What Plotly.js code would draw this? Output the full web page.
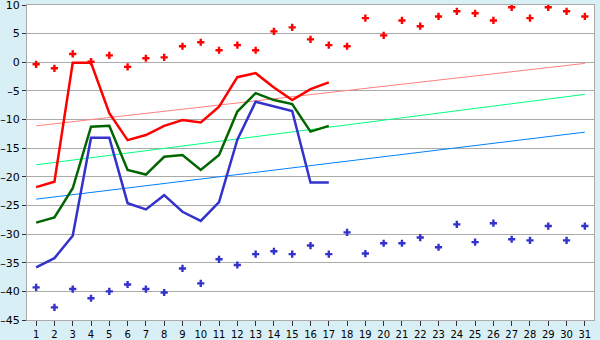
<!DOCTYPE html>
<html><head><meta charset="utf-8">
<script src="https://cdn.plot.ly/plotly-3.0.1.min.js"></script>
<style>html,body{margin:0;padding:0;background:#d9eff6;}</style>
</head><body>
<div id="chart" style="width:600px;height:340px;"></div>
<script>
const days = Array.from({length: 31}, (_, i) => i + 1);
const lineDays = days.slice(0, 17);
const redDots = [-0.35,-1.05,1.45,0.1,1.2,-0.8,0.7,0.85,2.8,3.5,2.1,3.0,2.1,5.4,6.1,4.0,3.0,2.8,7.7,4.7,7.3,6.3,8.0,8.9,8.55,7.3,9.6,7.7,9.6,8.9,8.0];
const blueDots = [-39.3,-42.8,-39.6,-41.2,-40.0,-38.8,-39.6,-40.2,-36.0,-38.6,-34.4,-35.4,-33.5,-33.0,-33.5,-32.0,-33.5,-29.7,-33.4,-31.6,-31.6,-30.6,-32.3,-28.3,-31.4,-28.1,-30.9,-31.1,-28.6,-31.1,-28.6];
const redLine = [-21.8,-20.85,-0.1,-0.1,-8.9,-13.6,-12.7,-11.1,-10.1,-10.5,-7.75,-2.6,-1.9,-4.4,-6.6,-4.7,-3.5];
const greenLine = [-28.0,-27.1,-22.0,-11.25,-11.1,-18.8,-19.6,-16.5,-16.2,-18.8,-16.2,-8.6,-5.4,-6.6,-7.3,-12.1,-11.1];
const blueLine = [-35.8,-34.2,-30.3,-13.2,-13.2,-24.6,-25.7,-23.2,-26.1,-27.7,-24.4,-13.5,-6.9,-7.75,-8.5,-21.0,-21.0];
const trendX = [1, 31];
const pinkTrend = [-11.1, -0.2];
const greenTrend = [-17.9, -5.6];
const blueTrend = [-23.9, -12.2];
const yTicks = [-45,-40,-35,-30,-25,-20,-15,-10,-5,0,5,10];
const yTickText = yTicks.map(v => v < 0 ? '\u2013' + Math.abs(v) : String(v));

const traces = [
  {x: trendX, y: pinkTrend, mode: 'lines', line: {color: '#ff8080', width: 1}},
  {x: trendX, y: greenTrend, mode: 'lines', line: {color: '#00ff80', width: 1}},
  {x: trendX, y: blueTrend, mode: 'lines', line: {color: '#0080ff', width: 1}},
  {x: days, y: redDots, mode: 'markers', marker: {symbol: 'cross', size: 6, color: '#ff0000'}},
  {x: days, y: blueDots, mode: 'markers', marker: {symbol: 'cross', size: 6, color: '#3333cc'}},
  {x: lineDays, y: redLine, mode: 'lines', line: {color: '#ff0000', width: 2.5}},
  {x: lineDays, y: greenLine, mode: 'lines', line: {color: '#006600', width: 2.5}},
  {x: lineDays, y: blueLine, mode: 'lines', line: {color: '#3333cc', width: 2.5}}
];

const layout = {
  width: 600, height: 340,
  margin: {l: 27, r: 6, t: 5, b: 20},
  paper_bgcolor: '#d9eff6',
  plot_bgcolor: '#ffffff',
  showlegend: false,
  font: {family: 'DejaVu Sans', size: 11, color: '#000'},
  xaxis: {
    range: [0.5, 31.5], tickmode: 'array', tickvals: days, ticktext: days.map(String),
    showgrid: false, zeroline: false, showline: true, mirror: true, linecolor: '#aaaaaa', linewidth: 1,
    ticks: 'outside', ticklen: 5, tickcolor: '#333333', tickfont: {size: 10}, ticklabeloverflow: 'allow'
  },
  yaxis: {
    range: [-45, 10], tickmode: 'array', tickvals: yTicks, ticktext: yTickText,
    showgrid: true, gridcolor: '#aaaaaa', gridwidth: 1, zeroline: false,
    showline: true, mirror: true, linecolor: '#aaaaaa', linewidth: 1,
    ticks: 'outside', ticklen: 4, tickcolor: '#333333', tickfont: {size: 11}, ticklabeloverflow: 'allow'
  }
};
Plotly.newPlot('chart', traces, layout, {staticPlot: true});
</script>
</body></html>
